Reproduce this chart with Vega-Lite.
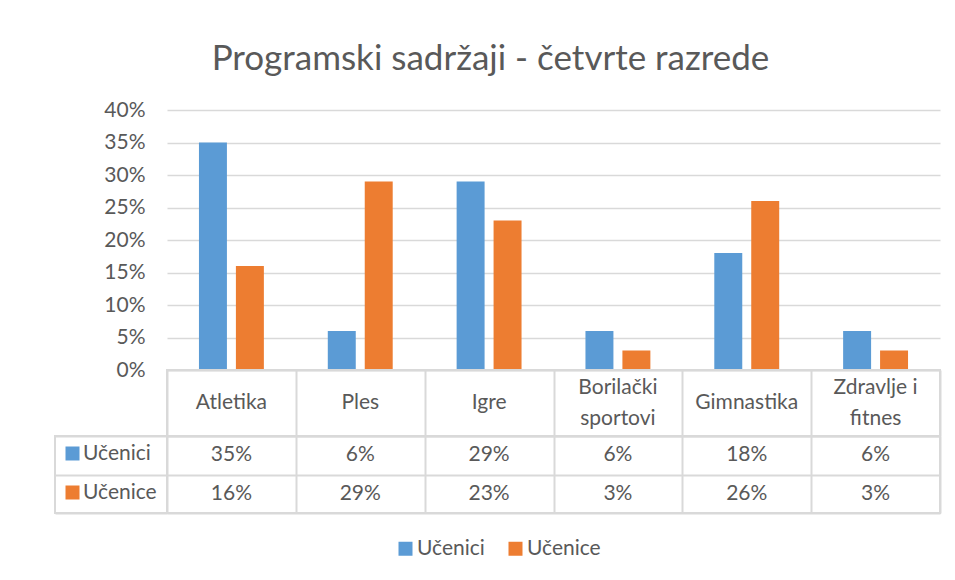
{
  "$schema": "https://vega.github.io/schema/vega-lite/v6.json",
  "background": "white",
  "padding": {"left": 54, "top": 42, "right": 10, "bottom": 5},
  "title": {"text": "Programski sadržaji -  četvrte razrede", "fontSize": 35, "font": "Lato", "fontWeight": "normal", "color": "#595959", "anchor": "middle", "offset": 22, "dx": -7},
  "datasets": {
    "main": [
      {"category": "Atletika", "series": "Učenici", "value": 0.35},
      {"category": "Ples", "series": "Učenici", "value": 0.06},
      {"category": "Igre", "series": "Učenici", "value": 0.29},
      {"category": "Borilački sportovi", "series": "Učenici", "value": 0.06},
      {"category": "Gimnastika", "series": "Učenici", "value": 0.18},
      {"category": "Zdravlje i fitnes", "series": "Učenici", "value": 0.06},
      {"category": "Atletika", "series": "Učenice", "value": 0.16},
      {"category": "Ples", "series": "Učenice", "value": 0.29},
      {"category": "Igre", "series": "Učenice", "value": 0.23},
      {"category": "Borilački sportovi", "series": "Učenice", "value": 0.03},
      {"category": "Gimnastika", "series": "Učenice", "value": 0.26},
      {"category": "Zdravlje i fitnes", "series": "Učenice", "value": 0.03}
    ],
    "cats": [
      {"category": "Atletika", "label": "Atletika"},
      {"category": "Ples", "label": "Ples"},
      {"category": "Igre", "label": "Igre"},
      {"category": "Borilački sportovi", "label": "Borilački\nsportovi"},
      {"category": "Gimnastika", "label": "Gimnastika"},
      {"category": "Zdravlje i fitnes", "label": "Zdravlje i\nfitnes"}
    ],
    "rows": [
      {"series": "Učenici"},
      {"series": "Učenice"}
    ]
  },
  "columns": 2,
  "spacing": 0,
  "bounds": "flush",
  "resolve": {
    "scale": {"x": "independent", "y": "independent", "fill": "independent"},
    "legend": {"fill": "independent"}
  },
  "concat": [
    {
      "width": 112, "height": 260,
      "data": {"values": []},
      "mark": "text",
      "view": {"stroke": null}
    },
    {
      "width": 773, "height": 260,
      "data": {"name": "main"},
      "mark": {"type": "bar"},
      "encoding": {
        "x": {"field": "category", "type": "nominal",
              "scale": {"domain": ["Atletika", "Ples", "Igre", "Borilački sportovi", "Gimnastika", "Zdravlje i fitnes"], "paddingInner": 0, "paddingOuter": 0},
              "axis": null},
        "xOffset": {"field": "series", "type": "nominal",
                    "scale": {"domain": ["Učenici", "Učenice"], "paddingInner": 0.243, "paddingOuter": 0.865}},
        "y": {"field": "value", "type": "quantitative",
              "scale": {"domain": [0, 0.4]},
              "axis": {"title": null, "format": ".0%", "values": [0, 0.05, 0.1, 0.15, 0.2, 0.25, 0.3, 0.35, 0.4],
                       "domain": false, "ticks": false, "labelFontSize": 21, "labelColor": "#595959", "labelPadding": 22,
                       "gridColor": "#d9d9d9", "gridWidth": 1.3}},
        "color": {"field": "series", "type": "nominal",
                  "scale": {"domain": ["Učenici", "Učenice"], "range": ["#5B9BD5", "#ED7D31"]},
                  "legend": {"title": null, "orient": "bottom", "direction": "horizontal", "symbolType": "square",
                             "symbolSize": 196, "symbolStrokeWidth": 0, "labelFontSize": 21, "labelColor": "#595959",
                             "labelOffset": 1, "columnPadding": 20, "offset": 24}}
      },
      "view": {"stroke": null}
    },
    {
      "width": 112, "height": 66,
      "data": {"values": []},
      "mark": "text",
      "view": {"stroke": null}
    },
    {
      "width": 773, "height": 66,
      "data": {"name": "cats"},
      "encoding": {
        "x": {"field": "category", "type": "nominal",
              "scale": {"domain": ["Atletika", "Ples", "Igre", "Borilački sportovi", "Gimnastika", "Zdravlje i fitnes"], "paddingInner": 0, "paddingOuter": 0},
              "axis": {"title": null, "labels": false, "ticks": false, "domain": false, "grid": true, "tickBand": "extent",
                       "gridColor": "#d9d9d9", "gridWidth": 2}},
        "y": {"datum": "header", "type": "nominal",
              "scale": {"paddingInner": 0, "paddingOuter": 0},
              "axis": {"title": null, "labels": false, "ticks": false, "domain": false, "grid": true, "tickBand": "extent",
                       "gridColor": "#d9d9d9", "gridWidth": 2}},
        "text": {"field": "label"}
      },
      "layer": [
        {
          "transform": [{"filter": "indexof(datum.label, '\\n') < 0"}],
          "mark": {"type": "text", "lineBreak": "\n", "fontSize": 21, "color": "#595959", "baseline": "middle"}
        },
        {
          "transform": [{"filter": "indexof(datum.label, '\\n') >= 0"}],
          "mark": {"type": "text", "lineBreak": "\n", "fontSize": 21, "color": "#595959", "lineHeight": 31, "baseline": "middle", "dy": -15.5}
        }
      ],
      "view": {"stroke": "#d9d9d9", "strokeWidth": 2}
    },
    {
      "width": 112, "height": 77,
      "data": {"name": "rows"},
      "mark": {"type": "text", "text": ""},
      "encoding": {
        "y": {"field": "series", "type": "nominal",
              "scale": {"domain": ["Učenici", "Učenice"], "paddingInner": 0, "paddingOuter": 0},
              "axis": {"title": null, "labels": false, "ticks": false, "domain": false, "grid": true, "tickBand": "extent",
                       "gridColor": "#d9d9d9", "gridWidth": 2}},
        "fill": {"field": "series", "type": "nominal",
                 "scale": {"domain": ["Učenici", "Učenice"], "range": ["#5B9BD5", "#ED7D31"]},
                 "legend": {"title": null, "orient": "top-left", "direction": "vertical", "symbolType": "square",
                            "symbolSize": 196, "symbolStrokeWidth": 0, "symbolOpacity": 1, "labelFontSize": 21,
                            "labelColor": "#595959", "labelOffset": 0, "rowPadding": 17, "offset": 0, "padding": 7}}
      },
      "view": {"stroke": "#d9d9d9", "strokeWidth": 2}
    },
    {
      "width": 773, "height": 77,
      "data": {"name": "main"},
      "mark": {"type": "text", "fontSize": 21, "color": "#595959", "baseline": "middle"},
      "encoding": {
        "x": {"field": "category", "type": "nominal",
              "scale": {"domain": ["Atletika", "Ples", "Igre", "Borilački sportovi", "Gimnastika", "Zdravlje i fitnes"], "paddingInner": 0, "paddingOuter": 0},
              "axis": {"title": null, "labels": false, "ticks": false, "domain": false, "grid": true, "tickBand": "extent",
                       "gridColor": "#d9d9d9", "gridWidth": 2}},
        "y": {"field": "series", "type": "nominal",
              "scale": {"domain": ["Učenici", "Učenice"], "paddingInner": 0, "paddingOuter": 0},
              "axis": {"title": null, "labels": false, "ticks": false, "domain": false, "grid": true, "tickBand": "extent",
                       "gridColor": "#d9d9d9", "gridWidth": 2}},
        "text": {"field": "value", "type": "quantitative", "format": ".0%"}
      },
      "view": {"stroke": "#d9d9d9", "strokeWidth": 2}
    }
  ],
  "config": {
    "font": "Lato",
    "view": {"stroke": null},
    "legend": {"labelFont": "Lato", "layout": {"bottom": {"anchor": "middle"}}},
    "axis": {"labelFont": "Lato"}
  }
}
